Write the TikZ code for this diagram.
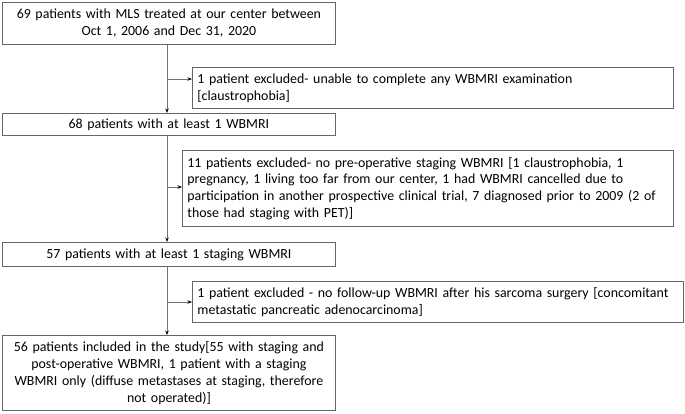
\documentclass[tikz,border=0pt]{standalone}
\usepackage{fontspec}
\setmainfont{Carlito}
\usetikzlibrary{arrows.meta}
\tikzset{
  mainbox/.style = {draw = black!60, line width = 0.8pt, inner xsep = 5pt, inner ysep = 0pt,
                    text width = 323pt, align = center, anchor = north west,
                    font = \fontsize{13.9}{16.8}\selectfont},
  exclbox/.style = {draw = black!60, line width = 0.8pt, inner xsep = 5pt, inner ysep = 0pt,
                    align = left, anchor = north west,
                    font = \fontsize{13.9}{16.8}\selectfont},
  flow/.style = {draw = black!55, line width = 0.7pt, -{Stealth[length = 4.5pt, width = 3.5pt, black]}}
}
\begin{document}
\begin{tikzpicture}[x = 1pt, y = -1pt]
\useasboundingbox (0, 0) rectangle (685, 413);
% main column
\node[mainbox, minimum height = 42pt] (n69) at (2, 2)
  {69 patients with MLS treated at our center between\\Oct 1, 2006 and Dec 31, 2020};
\node[mainbox, minimum height = 22pt] (n68) at (2, 113)
  {68 patients with at least 1 WBMRI};
\node[mainbox, minimum height = 24pt] (n57) at (2, 242)
  {57 patients with at least 1 staging WBMRI};
\node[mainbox, minimum height = 75pt] (n56) at (2, 335)
  {56 patients included in the study[55 with staging and\\
   post-operative WBMRI, 1 patient with a staging\\
   WBMRI only (diffuse metastases at staging, therefore\\
   not operated)]};
% exclusions
\node[exclbox, text width = 471pt, minimum height = 41pt] (ex1) at (192, 67)
  {1 patient excluded- unable to complete any WBMRI examination\\
   {[claustrophobia]}};
\node[exclbox, text width = 481pt, minimum height = 76pt] (ex2) at (182, 150)
  {11 patients excluded- no pre-operative staging WBMRI [1 claustrophobia, 1\\
   pregnancy, 1 living too far from our center, 1 had WBMRI cancelled due to\\
   participation in another prospective clinical trial, 7 diagnosed prior to 2009 (2 of\\
   those had staging with PET)]};
\node[exclbox, text width = 481pt, minimum height = 41pt] (ex3) at (192, 281)
  {1 patient excluded - no follow-up WBMRI after his sarcoma surgery [concomitant\\
   metastatic pancreatic adenocarcinoma]};
% branch points
\coordinate (b1) at (167, 79);
\coordinate (b2) at (167, 187);
\coordinate (b3) at (167, 302);
\foreach \a/\b in {n69/n68, n68/n57, n57/n56}
  \draw[flow] (\a.south -| b1) -- (\b.north -| b1);
\foreach \p/\e in {b1/ex1, b2/ex2, b3/ex3}
  \draw[flow] (\p) -- (\p -| \e.west);
\end{tikzpicture}
\end{document}
